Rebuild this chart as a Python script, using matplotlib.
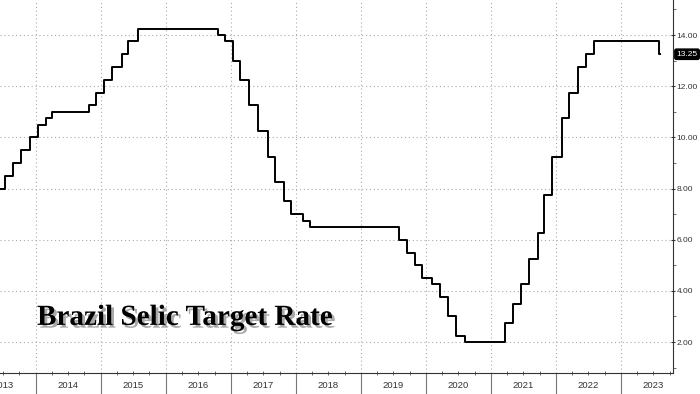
import matplotlib
matplotlib.use("Agg")
import matplotlib.pyplot as plt
import matplotlib.dates as mdates
import matplotlib.patheffects as pe
import matplotlib.transforms as mtransforms
import pandas as pd
import numpy as np

# Selic target rate decisions (effective date, rate %)
change_dates = ["2013-05-29", "2013-07-10", "2013-08-28", "2013-10-09", "2013-11-27",
                "2014-01-15", "2014-02-26", "2014-04-02", "2014-10-29", "2014-12-03",
                "2015-01-21", "2015-03-04", "2015-04-29", "2015-06-03", "2015-07-29",
                "2016-10-19", "2016-11-30", "2017-01-11", "2017-02-22", "2017-04-12",
                "2017-05-31", "2017-07-26", "2017-09-06", "2017-10-25", "2017-12-06",
                "2018-02-07", "2018-03-21", "2019-07-31", "2019-09-18", "2019-10-30",
                "2019-12-11", "2020-02-05", "2020-03-18", "2020-05-06", "2020-06-17",
                "2020-08-05", "2021-03-17", "2021-05-05", "2021-06-16", "2021-08-04",
                "2021-09-22", "2021-10-27", "2021-12-08", "2022-02-02", "2022-03-16",
                "2022-05-04", "2022-06-15", "2022-08-03", "2023-08-02", "2023-08-09"]
rates = [8.00, 8.50, 9.00, 9.50, 10.00,
         10.50, 10.75, 11.00, 11.25, 11.75,
         12.25, 12.75, 13.25, 13.75, 14.25,
         14.00, 13.75, 13.00, 12.25, 11.25,
         10.25, 9.25, 8.25, 7.50, 7.00,
         6.75, 6.50, 6.00, 5.50, 5.00,
         4.50, 4.25, 3.75, 3.00, 2.25,
         2.00, 2.75, 3.50, 4.25, 5.25,
         6.25, 7.75, 9.25, 10.75, 11.75,
         12.75, 13.25, 13.75, 13.25, 13.25]
year_labels = [2013, 2014, 2015, 2016, 2017, 2018, 2019, 2020, 2021, 2022, 2023]
y_ticks = [2, 4, 6, 8, 10, 12, 14]
title = "Brazil Selic Target Rate"
last_value = rates[-1]

dates = pd.to_datetime(change_dates)

fig = plt.figure(figsize=(7.0, 3.94), dpi=100)
ax = fig.add_axes([0.0, 21/394, 673/700, 373/394])

ax.plot(dates, rates, drawstyle="steps-post", color="black", lw=1.4, zorder=3)

ax.set_xlim(pd.Timestamp("2013-06-14"), pd.Timestamp("2023-10-19"))
ax.set_ylim(0.79, 15.37)

# spines
for s in ["top", "left"]:
    ax.spines[s].set_visible(False)
ax.spines["right"].set_color("#333333")
ax.spines["bottom"].set_color("#333333")
ax.spines["right"].set_linewidth(0.8)
ax.spines["bottom"].set_linewidth(0.8)

# y axis on right
ax.yaxis.tick_right()
ax.set_yticks(y_ticks)
ax.set_yticklabels([f"{v:.2f}" for v in y_ticks], family="Liberation Sans")
ax.set_yticks([v + 1 for v in y_ticks[:-1]] + [1, 15], minor=True)
ax.tick_params(axis="y", which="major", direction="inout", length=3.5, width=0.8,
               labelsize=6, colors="#333333", pad=1)
ax.tick_params(axis="y", which="minor", direction="out", length=2.5, width=0.6, colors="#555555")

# x axis: year separators and quarter ticks
ax.xaxis.set_major_locator(mdates.YearLocator())
ax.xaxis.set_minor_locator(mdates.MonthLocator(bymonth=[4, 7, 10]))
ax.xaxis.set_major_formatter(plt.NullFormatter())
ax.tick_params(axis="x", which="major", direction="out", length=16, width=0.8, colors="#777777")
ax.tick_params(axis="x", which="minor", direction="inout", length=3, width=0.6, colors="#555555")

trans = mtransforms.blended_transform_factory(ax.transData, fig.transFigure)
for yr in year_labels:
    ax.text(pd.Timestamp(f"{yr}-07-02"), 6/394, str(yr), transform=trans,
            ha="center", va="baseline", fontsize=6.8, color="#333333", clip_on=False,
            family="Liberation Sans")

# grid
ax.grid(True, which="major", axis="both", linestyle=(0, (1, 2.5)), color="#aaaaaa", lw=0.8)
ax.set_axisbelow(True)

# last value label
ax.annotate(f"{last_value:.2f}", xy=(1.0, last_value), xycoords=("axes fraction", "data"),
            xytext=(2.5, 0), textcoords="offset points", ha="left", va="center",
            fontsize=6, color="white", family="Liberation Sans",
            bbox=dict(boxstyle="round,pad=0.2", fc="black", ec="black"))

# title with shadow
ax.text(0.055, 0.129, title, transform=ax.transAxes, fontsize=21, fontweight="bold",
        family="Liberation Serif", color="black", ha="left", va="baseline",
        path_effects=[pe.SimplePatchShadow(offset=(2, -2), shadow_rgbFace="#555555", alpha=0.5),
                      pe.Normal()], zorder=5)

fig.savefig("out.png", dpi=100, facecolor="white")
